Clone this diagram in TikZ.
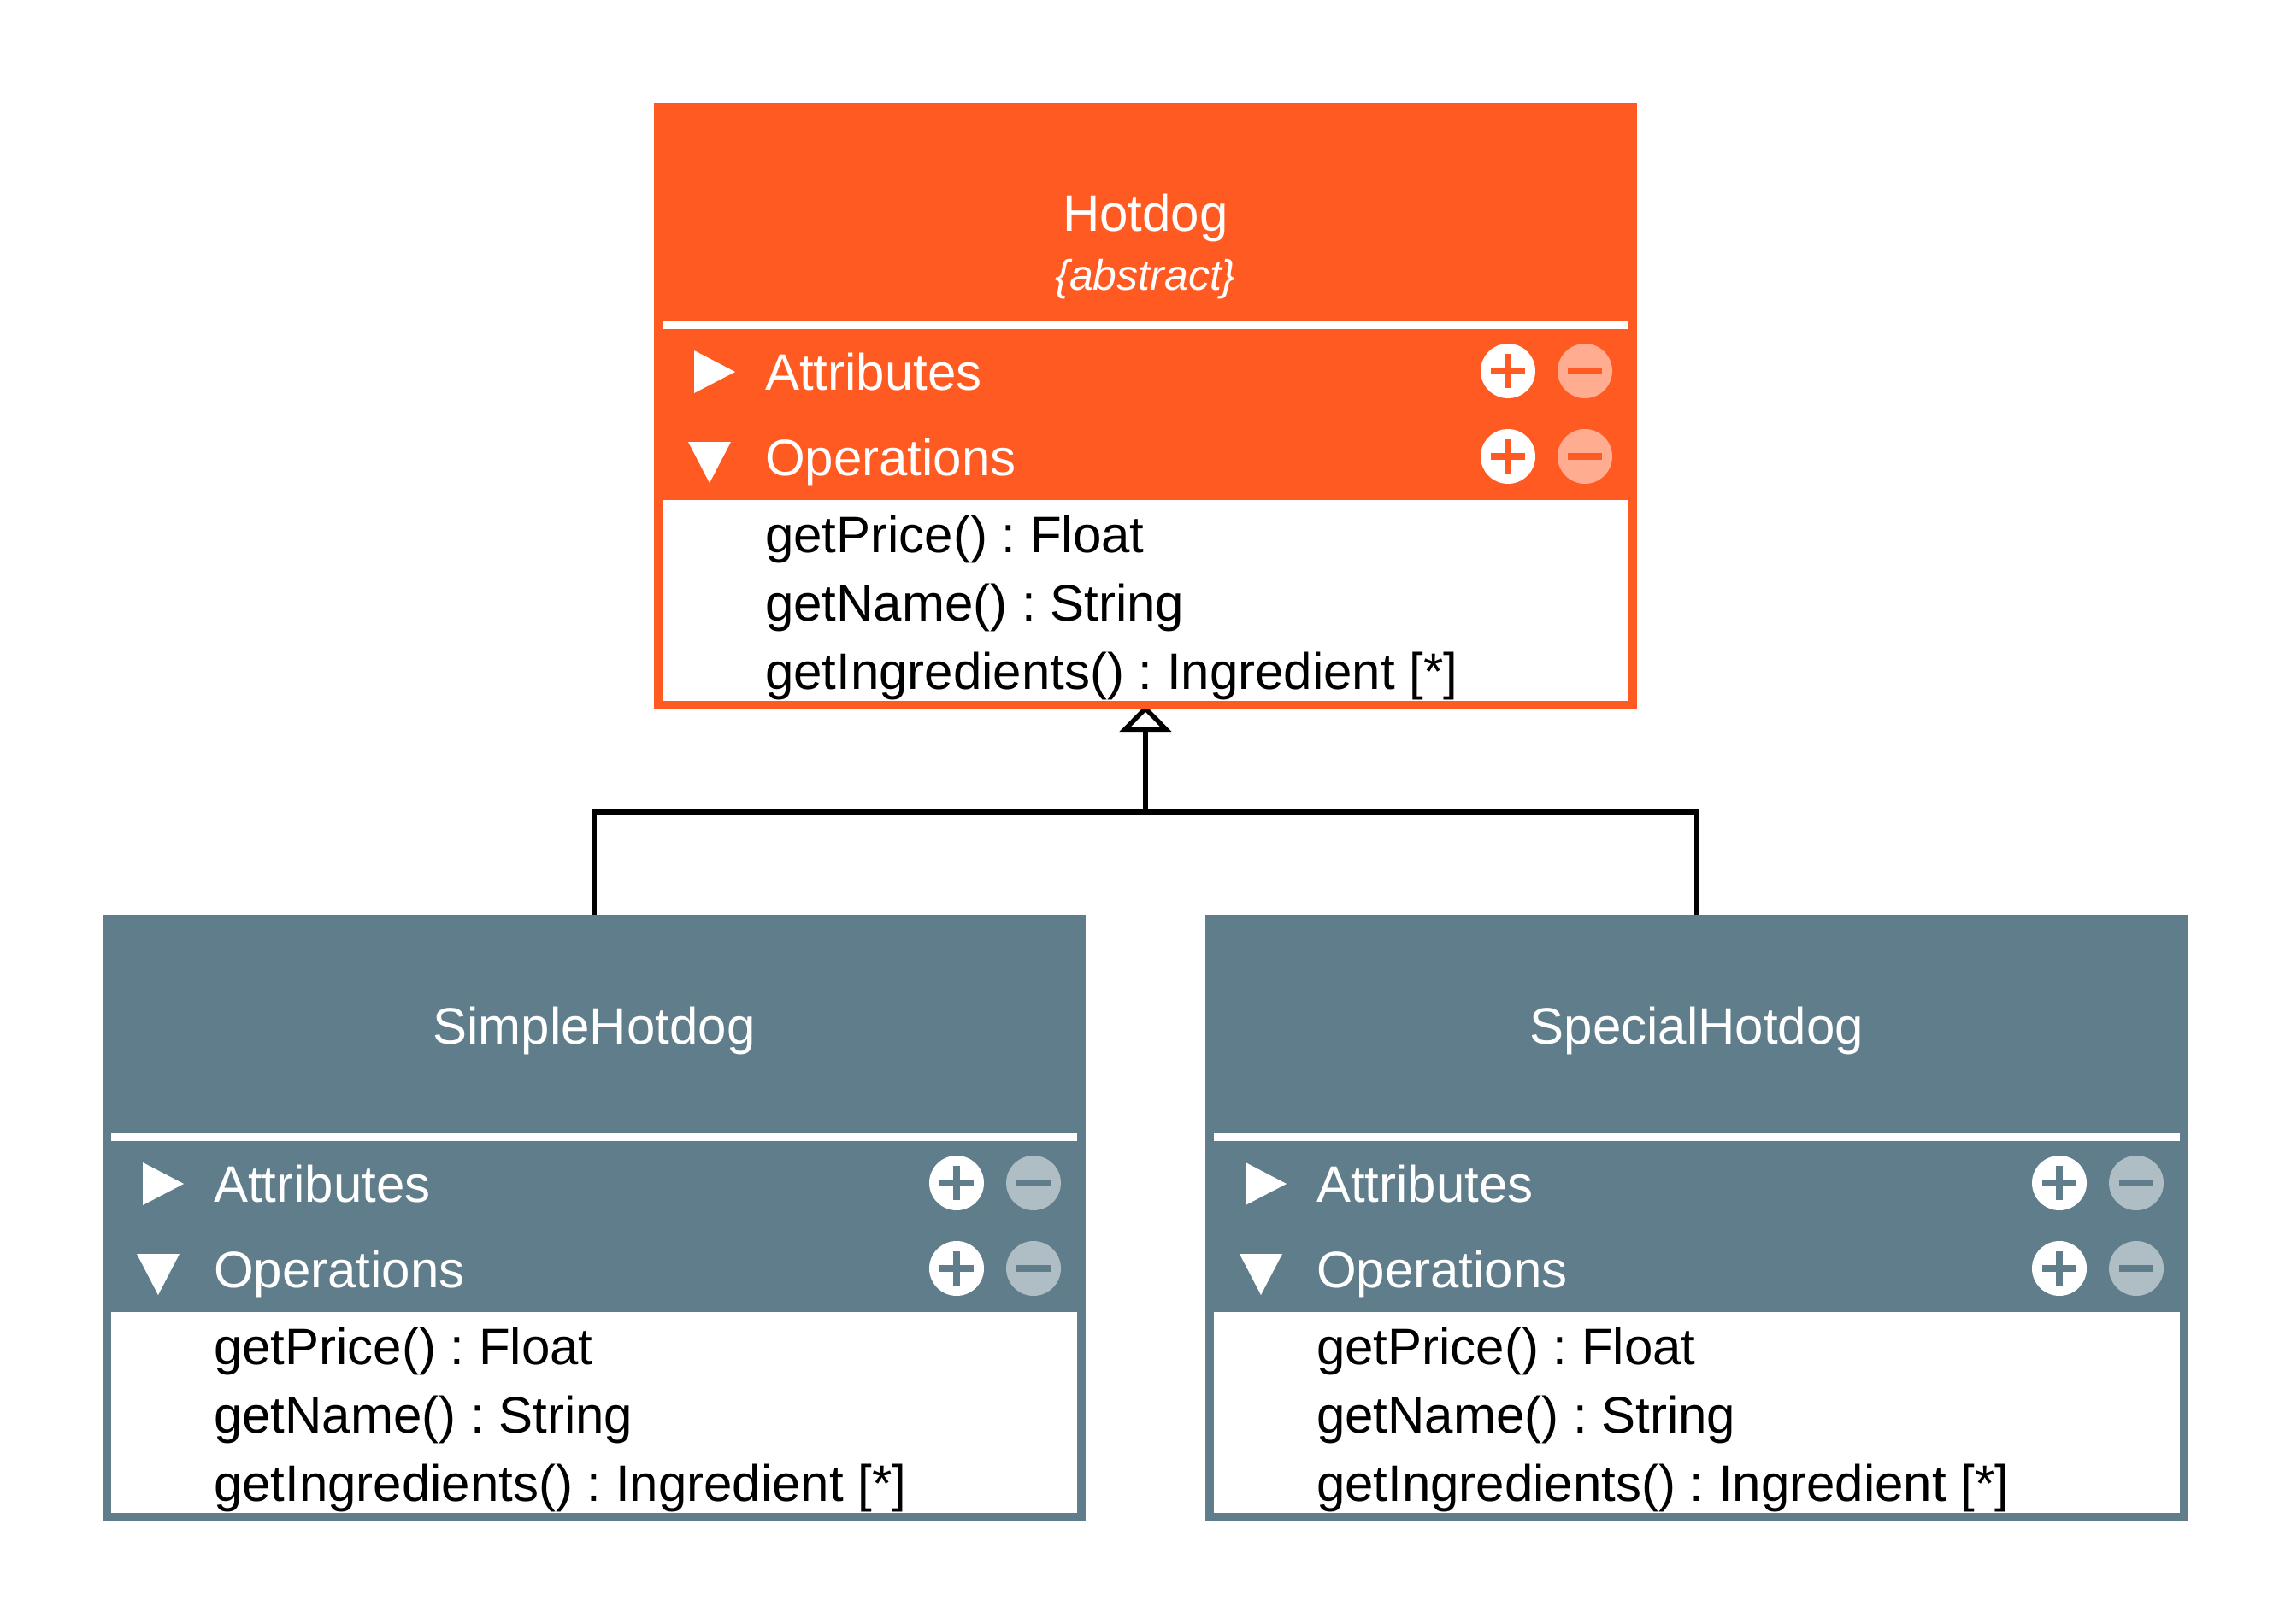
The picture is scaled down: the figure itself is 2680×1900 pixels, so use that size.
\documentclass[tikz,border=0pt]{standalone}
\usepackage{fontspec}
\setmainfont{Liberation Sans}
\usetikzlibrary{arrows.meta}
\definecolor{hotfill}{HTML}{FF5A22}
\definecolor{hotlight}{HTML}{FFAC90}
\definecolor{slatefill}{HTML}{607D8B}
\definecolor{slatelight}{HTML}{AFBEC5}
\pgfdeclarelayer{conn}
\pgfsetlayers{conn,main}
\tikzset{
  every node/.style={inner sep=0pt,outer sep=0pt},
  big/.style={font=\fontsize{60}{72}\selectfont\frenchspacing},
  small/.style={font=\fontsize{50}{60}\selectfont\itshape},
  labelw/.style={big,text=white,anchor=base west},
  labelb/.style={big,text=black,anchor=base west},
  titletext/.style={text=white,anchor=base},
  outerbox/.style={anchor=north west,minimum width=1150pt,minimum height=710pt},
  body/.style={anchor=north west,fill=white,minimum width=1130pt,minimum height=235pt},
  sepbar/.style={anchor=north west,fill=white,minimum width=1130pt,minimum height=10pt},
  icon/.style={circle,minimum size=64pt},
  conn/.style={line width=5.5pt,draw=black},
}
\newcommand{\umlclass}[5]{%
  \begin{scope}[shift={(#2,#3)}]
    \node[outerbox,fill=#4] (#1) at (0,0) {};
    \node[sepbar] (#1sep) at (10,255) {};
    \node[body] (#1body) at (10,465) {};
    \fill[white] (47,290) -- (95,315) -- (47,340) -- cycle;
    \fill[white] (40,397) -- (90,397) -- (65,445) -- cycle;
    \node[labelw] (#1attr) at (130,336) {Attributes};
    \node[labelw] (#1oper) at (130,436) {Operations};
    \foreach \rowname/\rowy in {a/314,o/414}{
      \node[icon,fill=white] (#1plus\rowname) at (999,\rowy) {};
      \fill[#4] (979,\rowy-4) rectangle (1019,\rowy+4);
      \fill[#4] (995,\rowy-20) rectangle (1003,\rowy+20);
      \node[icon,fill=#5] (#1minus\rowname) at (1089,\rowy) {};
      \fill[#4] (1069,\rowy-4) rectangle (1109,\rowy+4);
    }
    \node[labelb] (#1opa) at (130,526) {getPrice() : Float};
    \node[labelb] (#1opb) at (130,606) {getName() : String};
    \node[labelb] (#1opc) at (130,686) {getIngredients() : Ingredient [*]};
  \end{scope}%
}
\begin{document}
\begin{tikzpicture}[x=1pt,y=-1pt]
  \useasboundingbox (0,0) rectangle (2680,1900);
  \umlclass{hot}{765}{120}{hotfill}{hotlight}
  \node[big,titletext] (hottitle) at (1340,270) {Hotdog};
  \node[small,titletext] (hotkind) at (1340,339) {\{abstract\}};
  \umlclass{simple}{120}{1070}{slatefill}{slatelight}
  \node[big,titletext] (simpletitle) at (695,1221) {SimpleHotdog};
  \umlclass{special}{1410}{1070}{slatefill}{slatelight}
  \node[big,titletext] (specialtitle) at (1985,1221) {SpecialHotdog};
  \coordinate (junction) at (hot.south |- 0,950);
  \begin{pgfonlayer}{conn}
    \draw[conn,line join=miter] (simple.north) |- (junction) -| (special.north);
    \draw[conn,-{Triangle[open,fill=white,length=31pt,width=60pt]},shorten >=-5pt] (junction) -- (hot.south);
  \end{pgfonlayer}
\end{tikzpicture}
\end{document}
